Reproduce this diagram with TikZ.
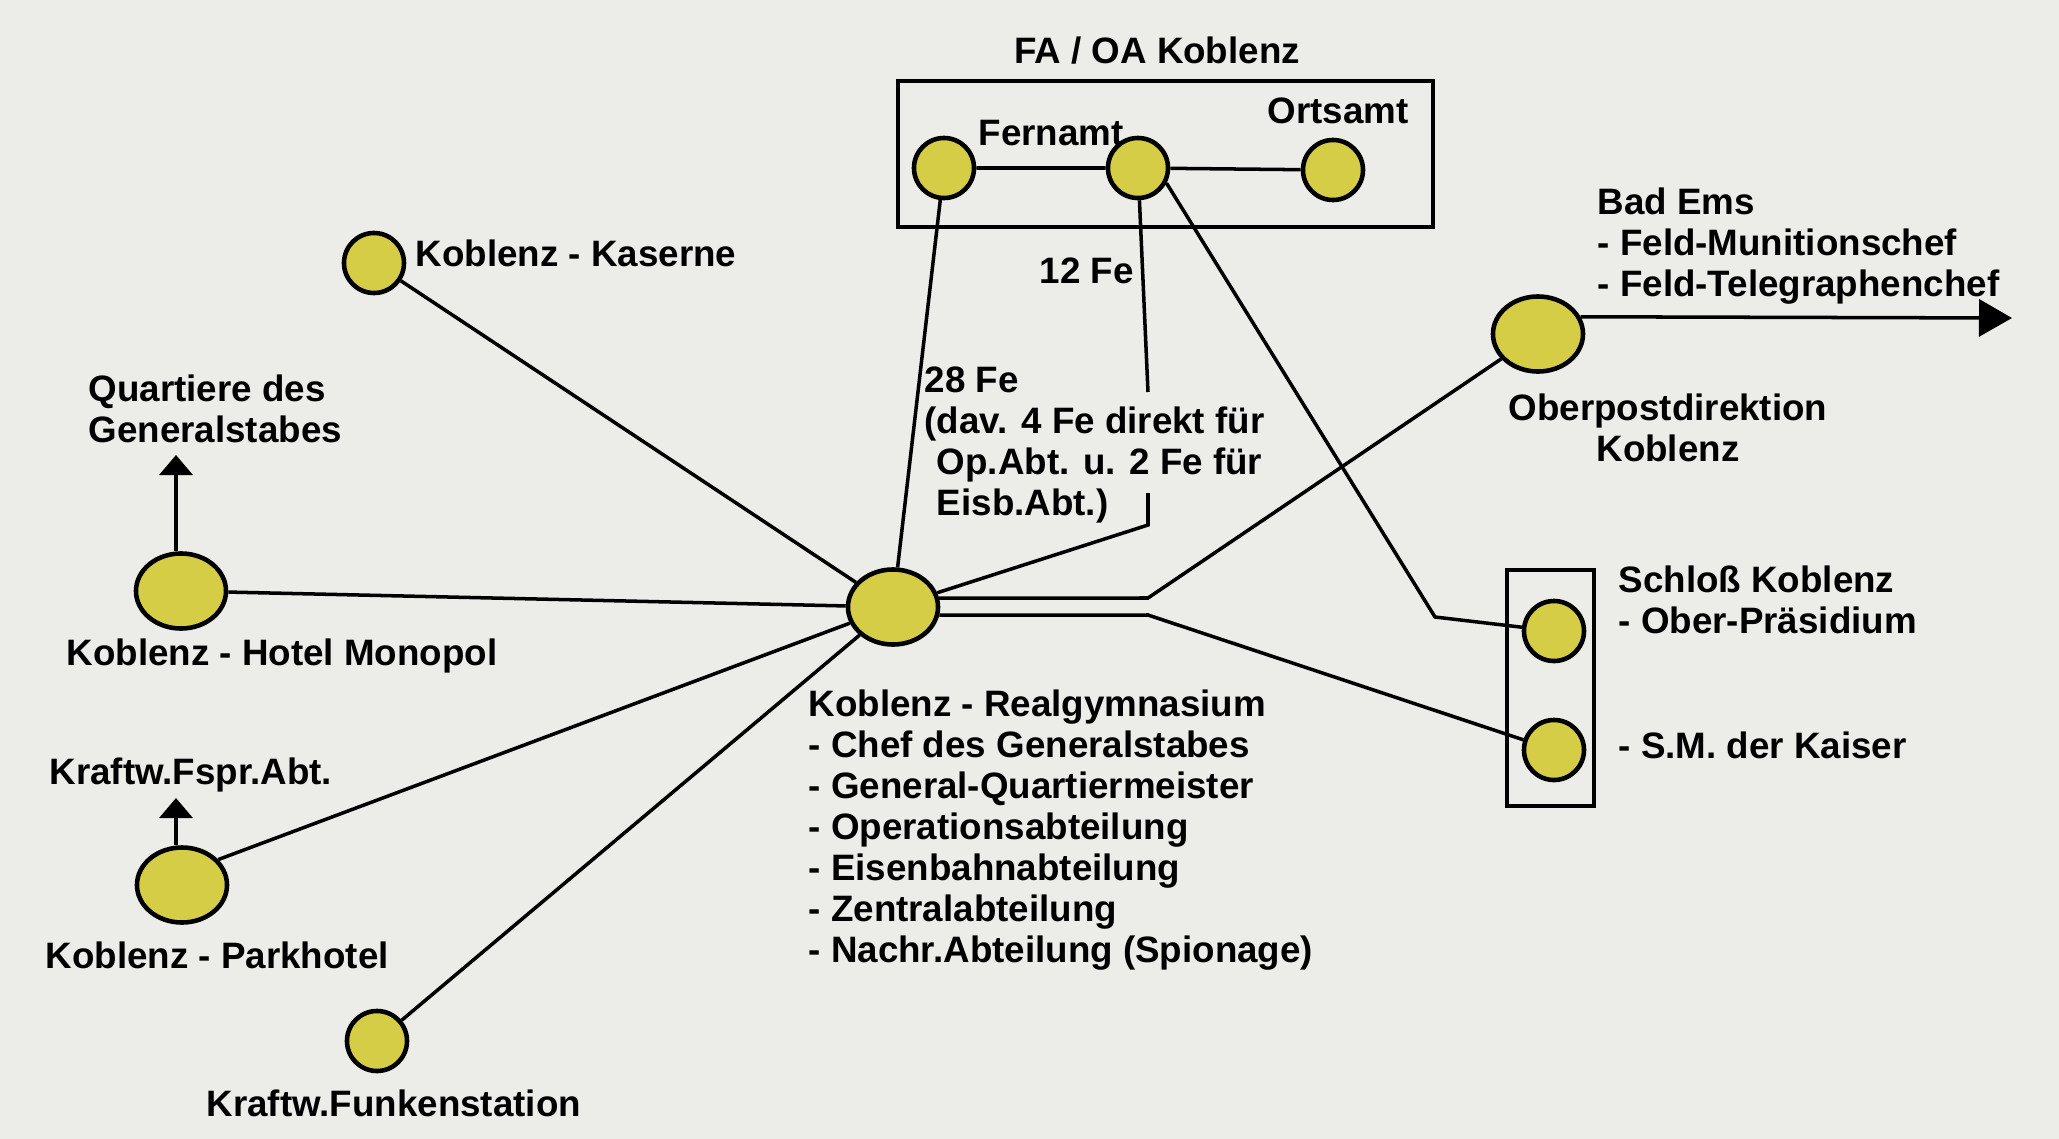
\documentclass[tikz,border=0pt]{standalone}
\usepackage{fontspec}
\setmainfont{Liberation Sans}
\usetikzlibrary{arrows.meta,shapes.geometric}
\definecolor{bg}{RGB}{236,236,232}
\definecolor{dot}{RGB}{214,205,70}
\begin{document}
\begin{tikzpicture}[x=0.01cm,y=-0.01cm,
  font=\fontsize{10.45}{11.7}\selectfont\bfseries,
  smalldot/.style={circle, draw, line width=1.3pt, fill=dot, minimum size=0.6cm, inner sep=0pt},
  bigdot/.style={ellipse, draw, line width=1.3pt, fill=dot, minimum width=0.9cm, minimum height=0.75cm, inner sep=0pt},
  lbl/.style={inner sep=0pt, anchor=base west},
  frame/.style={draw, line width=1.2pt, inner sep=0pt},
  conn/.style={line width=1pt},
  arr/.style={conn, -{Triangle[length=0.2cm,width=0.33cm]}},
  bigarr/.style={conn, -{Triangle[length=0.33cm,width=0.37cm]}}]
\fill[bg] (0,0) rectangle (2059,1139);
\useasboundingbox (0,0) rectangle (2059,1139);

% frames
\node[frame, minimum width=5.35cm, minimum height=1.46cm] (fabox) at (1165.5,154) {};
\node[frame, minimum width=0.87cm, minimum height=2.36cm] (schlossbox) at (1550.5,688) {};

% dots
\node[smalldot] (fl) at (944,168) {};
\node[smalldot] (fm) at (1138,168) {};
\node[smalldot] (fr) at (1333,170) {};
\node[smalldot] (kas) at (374,263) {};
\node[smalldot] (funk) at (377,1041) {};
\node[smalldot] (op) at (1554,631) {};
\node[smalldot] (kaiser) at (1554,750) {};
\node[bigdot] (mon) at (181,591) {};
\node[bigdot] (park) at (182,885) {};
\node[bigdot] (central) at (893,607) {};
\node[bigdot] (obpost) at (1538,334) {};

% helper coordinates
\coordinate (c1) at (1148,392);
\coordinate (c2) at (1148,493);
\coordinate (c3) at (1148,525);
\coordinate (c4) at (1435,617);
\coordinate (c5) at (1148,598);
\coordinate (c6) at (1148,615);
\coordinate (qarr) at (176,455);
\coordinate (farr) at (176,798);
\coordinate (emsend) at (2012,318);

% connectors
\draw[conn] (fl) -- (fm) -- (fr);
\draw[conn] (fl) -- (central);
\draw[conn] (fm) -- (c1);
\draw[conn] (c2) -- (c3) -- (central);
\draw[conn] (fm.-28) -- (c4) -- (op);
\draw[conn] (central.11.6) -- (c5) -- (obpost);
\draw[conn] (central.-10.3) -- (c6) -- (kaiser);
\draw[conn] (kas) -- (central);
\draw[conn] (mon) -- (central);
\draw[conn] (park.35) -- (central);
\draw[conn] (funk) -- (central);
\draw[arr] (mon.north -| qarr) -- (qarr);
\draw[arr] (park.north -| farr) -- (farr);
\draw[bigarr] (obpost.22.6) -- (emsend);

% labels
\node[inner sep=0pt, anchor=base] (tfa) at (1157,63) {FA / OA Koblenz};
\node[lbl] (tfern) at (978,145) {Fernamt};
\node[lbl] (torts) at (1267,123) {Ortsamt};
\node[lbl] (t12) at (1039,283) {12 Fe};
\node[lbl] (t28) at (924,392) {\begin{tabular}[t]{@{}l@{}}28 Fe\\(dav. 4 Fe direkt für\\\hphantom{(}Op.Abt. u. 2 Fe für\\\hphantom{(}Eisb.Abt.)\end{tabular}};
\node[lbl] (tkas) at (415,266) {Koblenz - Kaserne};
\node[lbl] (tquart) at (88,401) {\begin{tabular}[t]{@{}l@{}}Quartiere des\\Generalstabes\end{tabular}};
\node[lbl] (tmon) at (66,665) {Koblenz - Hotel Monopol};
\node[lbl] (tfspr) at (49,784) {Kraftw.Fspr.Abt.};
\node[lbl] (tpark) at (45,968) {Koblenz - Parkhotel};
\node[lbl] (tfunk) at (206,1116) {Kraftw.Funkenstation};
\node[lbl] (treal) at (808,716) {\begin{tabular}[t]{@{}l@{}}Koblenz - Realgymnasium\\- Chef des Generalstabes\\- General-Quartiermeister\\- Operationsabteilung\\- Eisenbahnabteilung\\- Zentralabteilung\\- Nachr.Abteilung (Spionage)\end{tabular}};
\node[lbl] (tems) at (1597,214) {\begin{tabular}[t]{@{}l@{}}Bad Ems\\- Feld-Munitionschef\\- Feld-Telegraphenchef\end{tabular}};
\node[inner sep=0pt, anchor=base] (tobpost) at (1668,420) {\begin{tabular}[t]{@{}c@{}}Oberpostdirektion\\Koblenz\end{tabular}};
\node[lbl] (tschloss) at (1618,592) {\begin{tabular}[t]{@{}l@{}}Schloß Koblenz\\- Ober-Präsidium\end{tabular}};
\node[lbl] (tkaiser) at (1618,758) {- S.M. der Kaiser};
\end{tikzpicture}
\end{document}
